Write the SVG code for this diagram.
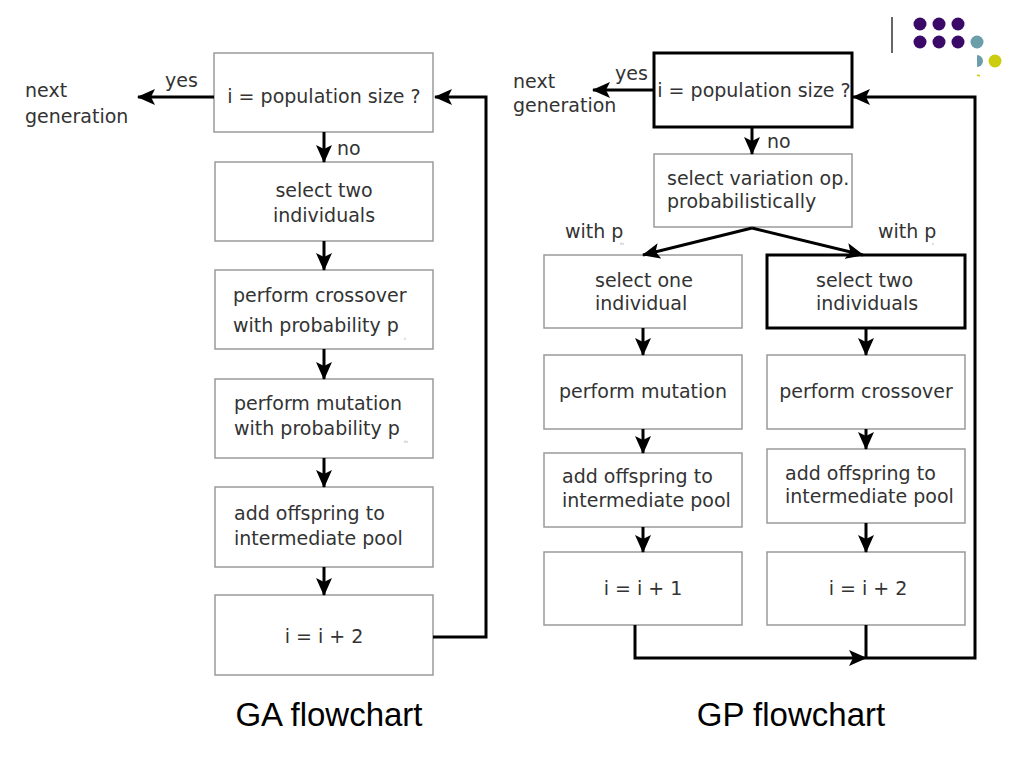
<svg xmlns="http://www.w3.org/2000/svg" width="1024" height="768" viewBox="0 0 1024 768">
<style>
.box{fill:#fff;stroke:#9a9a9a;stroke-width:1.5}
.bold{fill:#fff;stroke:#000;stroke-width:3}
.t{font-family:"DejaVu Sans","Liberation Sans",sans-serif;font-size:19px;fill:#333}
.c{text-anchor:middle}
.sub{font-family:"DejaVu Sans",sans-serif;font-size:4px;fill:#999}
.title{font-family:"Liberation Sans",Arial,sans-serif;font-size:33px;fill:#000;text-anchor:middle}
.ln{fill:none;stroke:#000;stroke-width:3}
.ar{fill:none;stroke:#000;stroke-width:3;marker-end:url(#ah)}
</style>
<defs>
<marker id="ah" markerUnits="userSpaceOnUse" markerWidth="18" markerHeight="16" refX="17" refY="8" orient="auto">
<path d="M0,0 L18,8 L0,16 L4,8 Z" fill="#000"/>
</marker>
</defs>
<rect width="1024" height="768" fill="#fff"/>

<!-- decoration -->
<g id="deco">
<line x1="892" y1="17" x2="892" y2="53" stroke="#333" stroke-width="1.5"/>
<g fill="#3b0a68">
<circle cx="920" cy="24" r="6.5"/><circle cx="939" cy="24" r="6.5"/><circle cx="958" cy="24" r="6.5"/>
<circle cx="920" cy="42" r="6.5"/><circle cx="939" cy="42" r="6.5"/><circle cx="958" cy="42" r="6.5"/>
</g>
<circle cx="977" cy="42" r="6.5" fill="#6b9ea8"/>
<path d="M977,55 A6,6 0 0 1 977,67 Z" fill="#6b9ea8"/>
<circle cx="995" cy="61" r="6.5" fill="#cccc10"/>
<line x1="977" y1="75" x2="980" y2="76" stroke="#cccc10" stroke-width="1.5"/>
</g>

<!-- GA nodes -->
<g id="ga-check"><rect class="box" x="214" y="53" width="219" height="79"/><text class="t c" x="324" y="103">i = population size ?</text></g>
<g id="ga-select"><rect class="box" x="215" y="162" width="218" height="79"/><text class="t c" x="324" y="197">select two</text><text class="t c" x="324" y="222">individuals</text></g>
<g id="ga-crossover"><rect class="box" x="215" y="270" width="218" height="79"/><text class="t" x="233" y="302">perform crossover</text><text class="t" x="233" y="332">with probability p</text><text class="sub" x="404" y="340">c</text></g>
<g id="ga-mutation"><rect class="box" x="215" y="379" width="218" height="79"/><text class="t" x="234" y="410">perform mutation</text><text class="t" x="234" y="435">with probability p</text><text class="sub" x="404" y="443">m</text></g>
<g id="ga-add"><rect class="box" x="215" y="487" width="218" height="80"/><text class="t" x="234" y="520">add offspring to</text><text class="t" x="234" y="545">intermediate pool</text></g>
<g id="ga-inc"><rect class="box" x="215" y="595" width="218" height="80"/><text class="t c" x="324" y="643">i = i + 2</text></g>
<g id="ga-next"><text class="t" x="25" y="97">next</text><text class="t" x="25" y="123">generation</text></g>

<!-- GP nodes -->
<g id="gp-check"><rect class="bold" x="654" y="53" width="198" height="74"/><text class="t c" x="754" y="97">i = population size ?</text></g>
<g id="gp-select-op"><rect class="box" x="654" y="154" width="198" height="73"/><text class="t" x="667" y="185">select variation op.</text><text class="t" x="667" y="208">probabilistically</text></g>
<g id="gp-select-one"><rect class="box" x="544" y="255" width="198" height="73"/><text class="t" x="595" y="287">select one</text><text class="t" x="595" y="310">individual</text></g>
<g id="gp-select-two"><rect class="bold" x="767" y="255" width="198" height="73"/><text class="t" x="816" y="287">select two</text><text class="t" x="816" y="310">individuals</text></g>
<g id="gp-mutation"><rect class="box" x="544" y="355" width="198" height="74"/><text class="t c" x="643" y="398">perform mutation</text></g>
<g id="gp-crossover"><rect class="box" x="767" y="355" width="198" height="74"/><text class="t c" x="866" y="398">perform crossover</text></g>
<g id="gp-add1"><rect class="box" x="544" y="453" width="198" height="74"/><text class="t" x="562" y="483">add offspring to</text><text class="t" x="562" y="507">intermediate pool</text></g>
<g id="gp-add2"><rect class="box" x="767" y="449" width="198" height="74"/><text class="t" x="785" y="480">add offspring to</text><text class="t" x="785" y="503">intermediate pool</text></g>
<g id="gp-inc1"><rect class="box" x="544" y="552" width="198" height="73"/><text class="t c" x="643" y="595">i = i + 1</text></g>
<g id="gp-inc2"><rect class="box" x="767" y="552" width="198" height="73"/><text class="t c" x="868" y="595">i = i + 2</text></g>
<g id="gp-next"><text class="t" x="513" y="88">next</text><text class="t" x="513" y="112">generation</text></g>

<!-- connectors -->
<g id="connectors">
<line class="ar" x1="214" y1="97" x2="138" y2="97"/>
<line class="ar" x1="324" y1="132" x2="324" y2="162"/>
<line class="ar" x1="324" y1="241" x2="324" y2="270"/>
<line class="ar" x1="324" y1="349" x2="324" y2="379"/>
<line class="ar" x1="324" y1="458" x2="324" y2="487"/>
<line class="ar" x1="324" y1="567" x2="324" y2="595"/>
<polyline class="ar" points="433,637 486,637 486,97 435,97"/>

<line class="ar" x1="654" y1="90" x2="593" y2="90"/>
<line class="ar" x1="752" y1="127" x2="752" y2="154"/>
<line class="ar" x1="752" y1="228" x2="643" y2="255"/>
<line class="ar" x1="752" y1="228" x2="863" y2="255"/>
<line class="ar" x1="643" y1="328" x2="643" y2="355"/>
<line class="ar" x1="866" y1="328" x2="866" y2="355"/>
<line class="ar" x1="643" y1="429" x2="643" y2="453"/>
<line class="ar" x1="866" y1="429" x2="866" y2="449"/>
<line class="ar" x1="643" y1="527" x2="643" y2="552"/>
<line class="ar" x1="866" y1="523" x2="866" y2="552"/>
<polyline class="ar" points="635,625 635,658 866,658"/>
<line class="ln" x1="866" y1="625" x2="866" y2="658"/>
<polyline class="ar" points="866,658 975,658 975,97 853,97"/>
</g>

<g id="labels">
<text class="t" x="165" y="87">yes</text>
<text class="t" x="337" y="155">no</text>
<text class="t" x="615" y="80">yes</text>
<text class="t" x="767" y="148">no</text>
<text class="t" x="565" y="238">with p</text><text class="sub" x="620" y="245">m</text>
<text class="t" x="878" y="238">with p</text><text class="sub" x="932" y="245">c</text>
</g>

<text class="title" x="329" y="726">GA flowchart</text>
<text class="title" x="791" y="726">GP flowchart</text>
</svg>
